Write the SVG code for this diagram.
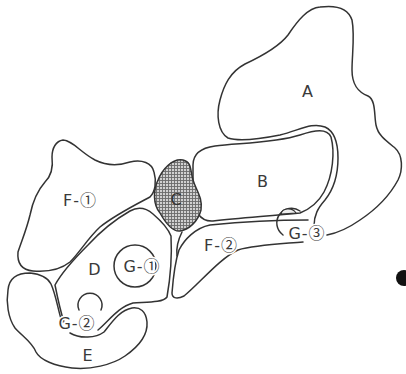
<svg xmlns="http://www.w3.org/2000/svg" width="406" height="374" viewBox="0 0 406 374">
<defs>
<pattern id="hatch" width="3" height="3" patternUnits="userSpaceOnUse">
<rect width="3" height="3" fill="#d0d0d0"/>
<path d="M0,0.5 H3 M0.5,0 V3" stroke="#6a6a6a" stroke-width="0.9"/>
</pattern>
<style>
.o{fill:none;stroke:#333;stroke-width:1.5;stroke-linecap:round;stroke-linejoin:round}
.t{font-family:"DejaVu Sans","Liberation Sans",sans-serif;font-size:16px;fill:#3a3a3a;text-anchor:middle;letter-spacing:1px;paint-order:stroke;stroke:#fff;stroke-width:3px}
.n{font-family:"Noto Sans CJK JP","DejaVu Sans",sans-serif;font-size:16px}
</style>
</defs>
<rect width="406" height="374" fill="#fff"/>
<g id="A">
<path class="o" d="M314,226 C314,215 318,208 325,200 C333,190 338,175 338,158 C338,145 336,132 325,127 C312,122 300,130 280,135 C260,139 240,142 228,138 C218,132 216,115 220,100 C224,85 230,72 245,64 C260,57 278,48 288,35 C298,20 308,8 320,7 C335,5 348,8 352,20 C355,35 352,55 352,70 C352,85 358,92 368,96 C376,100 374,115 376,125 C378,135 385,140 395,148 C403,155 403,170 398,180 C390,195 375,210 360,220 C350,227 338,233 327,235"/>
<text class="t" x="308" y="97">A</text>
</g>
<g id="B">
<path class="o" d="M193,165 C193,155 200,148 215,146 C240,143 275,143 300,135 C315,130 327,128 331,137 C335,152 333,175 324,192 C318,203 310,209 300,213 C270,216 240,218 213,221 C200,222 193,210 193,195 Z"/>
<text class="t" x="263" y="187">B</text>
</g>
<g id="C">
<path d="M183,160 C172,158 162,170 158,180 C153,190 153,205 160,213 C165,222 172,232 180,231 C188,230 198,222 201,210 C203,198 196,190 193,180 C190,170 192,162 183,160 Z" fill="url(#hatch)" stroke="#333" stroke-width="1.5"/>
<text x="176" y="205" style="font-family:'DejaVu Sans',sans-serif;font-size:16px;fill:#333;text-anchor:middle">C</text>
</g>
<g id="F1">
<path class="o" d="M63,140 C72,140 80,152 95,160 C105,165 118,166 130,162 C142,159 152,163 154,172 C157,182 155,192 150,197 C135,205 115,215 100,227 C88,238 80,252 70,262 C60,270 45,272 33,271 C22,270 17,263 18,252 C22,240 27,228 30,215 C33,200 38,190 45,182 C52,175 53,165 52,157 C52,148 56,141 63,140 Z"/>
<text class="t" x="80" y="206">F-<tspan class="n">①</tspan></text>
</g>
<g id="D">
<path class="o" d="M64,322 C60,310 57,295 55,285 C62,272 75,258 88,245 C100,232 116,219 130,211 C139,206 146,208 153,214 C160,220 168,228 171,236 C172,255 170,280 167,297 C163,303 145,302 133,303 C118,307 108,322 98,330"/>
<text class="t" x="95" y="275">D</text>
</g>
<g id="E">
<path class="o" d="M62,322 C58,310 56,295 51,284 C48,278 40,274 30,273 C18,273 9,278 8,290 C6,302 8,318 15,328 C22,336 32,342 36,352 C40,360 55,366 72,368 C90,370 112,365 125,356 C138,347 148,335 147,322 C146,311 140,307 132,308 C120,310 112,322 104,332 C96,338 80,339 70,333"/>
<text class="t" x="88" y="361">E</text>
</g>
<g id="F2">
<path class="o" d="M308,220 C275,220 240,222 210,225 C195,228 184,240 179,250 C175,262 173,280 172,293 C172,299 178,299 184,296 C198,285 220,258 238,250 C255,245 280,244 303,242"/>
<path class="o" d="M182,232 C178,240 176,248 177,256"/>
<text class="t" x="221" y="251">F-<tspan class="n">②</tspan></text>
</g>
<g id="G1">
<circle class="o" cx="135" cy="266" r="21"/>
<text class="t" x="142" y="272">G-<tspan class="n">①</tspan></text>
</g>
<g id="G2">
<path class="o" d="M79,310 A12,12 0 1 1 101,310"/>
<text class="t" x="77" y="329">G-<tspan class="n">②</tspan></text>
</g>
<g id="G3">
<path class="o" d="M300,211 A14,14 0 1 0 283,235"/>
<path d="M281,214 C282,208 292,207 296,213 Z" fill="#eee" stroke="#333" stroke-width="1.2"/>
<text class="t" x="307" y="239">G-<tspan class="n">③</tspan></text>
</g>
<g id="dot">
<circle cx="404" cy="278" r="8" fill="#111"/>
</g>
</svg>
